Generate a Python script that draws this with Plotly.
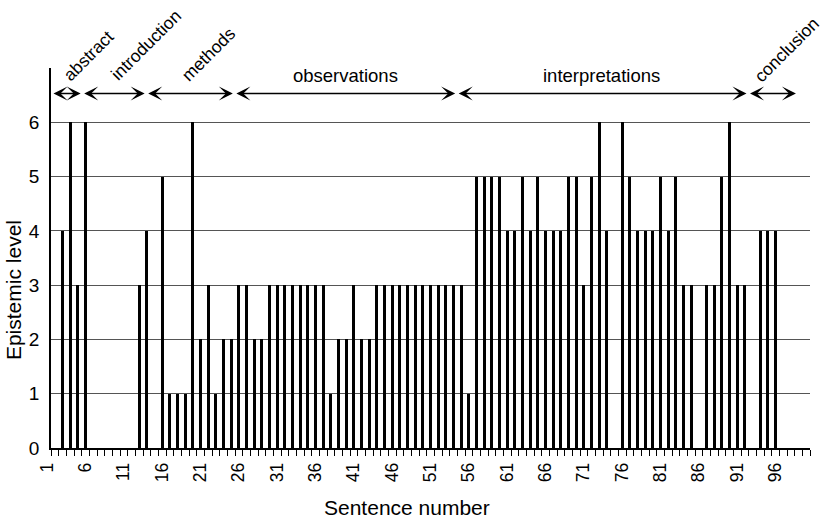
import plotly.graph_objects as go

# Sentence numbers (bins 1..99) and epistemic level of each sentence
sentences = list(range(1, 100))
levels = [
    0, 4, 6, 3, 6, 0, 0, 0, 0, 0,      # 1-10
    0, 3, 4, 0, 5, 1, 1, 1, 6, 2,      # 11-20
    3, 1, 2, 2, 3, 3, 2, 2, 3, 3,      # 21-30
    3, 3, 3, 3, 3, 3, 1, 2, 2, 3,      # 31-40
    2, 2, 3, 3, 3, 3, 3, 3, 3, 3,      # 41-50
    3, 3, 3, 3, 1, 5, 5, 5, 5, 4,      # 51-60
    4, 5, 4, 5, 4, 4, 4, 5, 5, 3,      # 61-70
    5, 6, 4, 0, 6, 5, 4, 4, 4, 5,      # 71-80
    4, 5, 3, 3, 0, 3, 3, 5, 6, 3,      # 81-90
    3, 0, 4, 4, 4, 0, 0, 0, 0,         # 91-99
]

# Section names and their boundaries on the sentence axis
sections = ["abstract", "introduction", "methods", "observations",
            "interpretations", "conclusion"]
section_bounds = [1, 5, 13.35, 24.85, 53.85, 91.85, 98.3]
section_rotated = [True, True, True, False, False, True]

xtick_vals = list(range(1, 101))
xtick_text = [str(v) if (v - 1) % 5 == 0 and v <= 96 else "" for v in xtick_vals]
ytick_vals = [0, 1, 2, 3, 4, 5, 6]

FONT = "Liberation Sans, Arial, Helvetica, sans-serif"
Y_TOP = 7

fig = go.Figure()
fig.add_trace(go.Bar(
    x=sentences, y=levels,
    width=0.38, offset=0.31,
    marker=dict(color="black", line=dict(width=0)),
    hoverinfo="x+y",
))

annotations = []
arrow_y = 6.53
for i, name in enumerate(sections):
    x0, x1 = section_bounds[i], section_bounds[i + 1]
    annotations.append(dict(
        x=x1, y=arrow_y, ax=x0, ay=arrow_y,
        xref="x", yref="y", axref="x", ayref="y",
        text="", showarrow=True, arrowside="end+start",
        arrowhead=3, startarrowhead=3, arrowsize=1.8, startarrowsize=1.8,
        arrowwidth=1.3, arrowcolor="black",
        standoff=1, startstandoff=1,
    ))

# label placement (centers) for the rotated section labels
label_pos = {
    "abstract": (5.83, 7.23),
    "introduction": (13.4, 7.42),
    "methods": (21.6, 7.25),
    "conclusion": (96.9, 7.34),
}
for i, name in enumerate(sections):
    if section_rotated[i]:
        lx, ly = label_pos[name]
        annotations.append(dict(
            x=lx, y=ly / Y_TOP, xref="x", yref="paper", text=name,
            showarrow=False, textangle=-45, xanchor="center", yanchor="middle",
            font=dict(family=FONT, size=17.5, color="black"),
        ))
    else:
        mid = (section_bounds[i] + section_bounds[i + 1]) / 2
        annotations.append(dict(
            x=mid, y=6.86, xref="x", yref="y", text=name, showarrow=False,
            xanchor="center", yanchor="middle",
            font=dict(family=FONT, size=18.5, color="black"),
        ))

# axis titles
annotations.append(dict(
    x=47.4, y=0, xref="x", yref="paper", text="Sentence number",
    showarrow=False, xanchor="center", yanchor="top", yshift=-46,
    font=dict(family=FONT, size=21, color="black"),
))
annotations.append(dict(
    x=0, y=2.9, xref="paper", yref="y", text="Epistemic level",
    showarrow=False, textangle=-90, xanchor="right", yanchor="middle",
    xshift=-24,
    font=dict(family=FONT, size=21, color="black"),
))

fig.update_layout(
    width=828, height=524,
    margin=dict(l=51, r=18, t=68, b=76),
    paper_bgcolor="white", plot_bgcolor="white",
    showlegend=False,
    bargap=0,
    annotations=annotations,
    font=dict(family=FONT, color="black"),
)
fig.update_xaxes(
    range=[1, 100], tickvals=xtick_vals, ticktext=xtick_text,
    tickangle=-90, ticks="outside", ticklen=6, tickwidth=1, tickcolor="black",
    showline=True, linecolor="black", linewidth=1.5,
    showgrid=False, zeroline=False, ticklabelshift=-4,
    tickfont=dict(family=FONT, size=17.5, color="black"),
)
fig.update_yaxes(
    range=[0, Y_TOP], tickvals=ytick_vals, ticks="",
    showline=True, linecolor="black", linewidth=1.5,
    showgrid=True, gridcolor="#555555", gridwidth=1,
    zeroline=False, ticklabelstandoff=6,
    tickfont=dict(family=FONT, size=19, color="black"),
)

fig.write_html("out.html",
               config={"displayModeBar": False},
               post_script="document.body.style.margin='0';")
